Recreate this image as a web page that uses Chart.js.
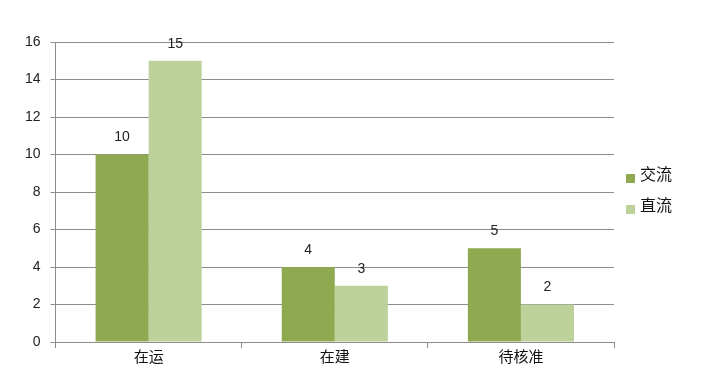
<!DOCTYPE html>
<html><head><meta charset="utf-8">
<script src="https://cdn.jsdelivr.net/npm/chart.js@4/dist/chart.umd.min.js"></script>
<style>html,body{margin:0;padding:0;background:#fff;}#wrap{width:701px;height:387px;}</style>
</head><body><div id="wrap"><canvas id="c" width="701" height="387"></canvas></div>
<script>
const categories = ["在运", "在建", "待核准"];
const seriesNames = ["交流", "直流"];
const acValues = [10, 4, 5];
const dcValues = [15, 3, 2];
const yTicks = [0, 2, 4, 6, 8, 10, 12, 14, 16];
const seriesColors = ['#8EA94F', '#BDD19B'];

const FONT = '"Liberation Sans", "Noto Sans CJK SC", sans-serif';

const valueLabels = {
  id: 'valueLabels',
  afterDatasetsDraw(chart) {
    const ctx = chart.ctx;
    ctx.save();
    ctx.font = '14px ' + FONT;
    ctx.fillStyle = '#222';
    ctx.textAlign = 'center';
    ctx.textBaseline = 'middle';
    chart.data.datasets.forEach((ds, i) => {
      chart.getDatasetMeta(i).data.forEach((bar, j) => {
        ctx.fillText(String(ds.data[j]), bar.x, bar.y - 17);
      });
    });
    ctx.restore();
  }
};

const sideLegend = {
  id: 'sideLegend',
  afterDraw(chart) {
    const ctx = chart.ctx;
    const ca = chart.chartArea;
    const x0 = ca.right + 12;
    const yc = (ca.top + ca.bottom) / 2;
    const gap = 31;
    const n = chart.data.datasets.length;
    ctx.save();
    ctx.font = '16px ' + FONT;
    ctx.textAlign = 'left';
    ctx.textBaseline = 'middle';
    chart.data.datasets.forEach((ds, i) => {
      const y = yc - (n - 1) * gap / 2 + i * gap;
      ctx.fillStyle = ds.backgroundColor;
      ctx.fillRect(x0, y - 2.5, 9, 9);
      ctx.fillStyle = '#111';
      ctx.fillText(ds.label, x0 + 14, y - 1);
    });
    ctx.restore();
  }
};

new Chart(document.getElementById('c'), {
  type: 'bar',
  data: {
    labels: categories,
    datasets: [
      { label: seriesNames[0], data: acValues, backgroundColor: seriesColors[0], categoryPercentage: 0.57, barPercentage: 1.0 },
      { label: seriesNames[1], data: dcValues, backgroundColor: seriesColors[1], categoryPercentage: 0.57, barPercentage: 1.0 }
    ]
  },
  options: {
    responsive: false,
    animation: false,
    layout: { padding: { top: 42, left: 15, right: 87, bottom: 19 } },
    plugins: {
      legend: { display: false },
      tooltip: { enabled: false }
    },
    scales: {
      x: {
        grid: { display: true, drawOnChartArea: false, drawTicks: true, tickLength: 6, color: '#8c8c8c', offset: true },
        border: { color: '#8c8c8c' },
        ticks: { color: '#111', font: { size: 15, family: FONT }, padding: 1 }
      },
      y: {
        min: 0, max: 16,
        afterBuildTicks(axis) { axis.ticks = yTicks.map(v => ({ value: v })); },
        grid: { color: '#8c8c8c', tickLength: 5 },
        border: { color: '#8c8c8c' },
        ticks: { color: '#222', font: { size: 14, family: FONT }, padding: 10 }
      }
    }
  },
  plugins: [valueLabels, sideLegend]
});
</script></body></html>
